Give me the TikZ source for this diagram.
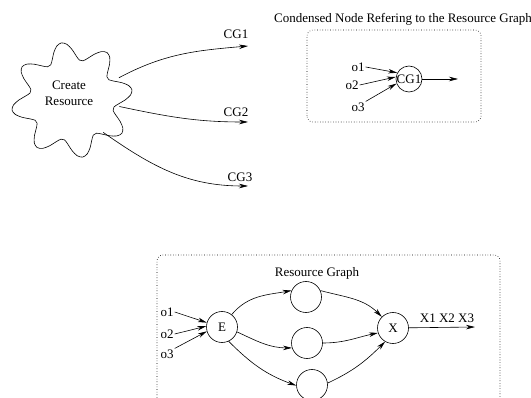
\documentclass[tikz,border=0pt]{standalone}
\usepackage{fontspec}
\setmainfont{Liberation Serif}
\usetikzlibrary{arrows.meta, positioning}

\begin{document}
\begin{tikzpicture}[
  x=1pt, y=1pt,
  every node/.style={font=\fontsize{13}{16}\selectfont},
  vertex/.style={circle, draw, line width=0.6pt, minimum size=31pt, inner sep=0pt},
  lbl/.style={inner sep=1pt},
  arr/.style={-{Stealth[length=9pt, width=4.5pt]}, line width=0.6pt},
  frame/.style={draw, dotted, line width=0.6pt, rounded corners=6pt}
]
\clip (0,0) rectangle (531,397);

% ===== CREATE RESOURCE =====
\draw[line width=0.6pt] plot[smooth cycle, domain=0:355, samples=72]
  ({72+1.05*(49+9*cos(8*(\x-10)))*cos(\x)}, {297+(49+9*cos(8*(\x-10)))*sin(\x)});
\node[circle, minimum size=104pt, align=center] (cr) at (69,304) {Create\\Resource};
\coordinate (cg1e) at (248,351);
\coordinate (cg2e) at (248,275);
\coordinate (cg3e) at (248,211);
\node[lbl] (cg1) at (236,363) {CG1};
\node[lbl] (cg2) at (236,285) {CG2};
\node[lbl] (cg3) at (240,220) {CG3};
\draw[arr] (cr.17) to[out=28, in=185] (cg1e);
\draw[arr] (cr.-15) to[out=-12, in=180] (cg2e);
\draw[arr] (cr.-49) to[out=-35, in=180] (cg3e);

% ===== CONDENSED NODE =====
\node[lbl] (title) at (403,378) {Condensed Node Refering to the Resource Graph};
\draw[frame] (307,275) rectangle (481,367);
\node[circle, draw, line width=0.6pt, minimum size=26pt, inner sep=0pt] (cgn) at (409,318) {CG1};
\node[lbl] (ci1) at (358,330) {o1};
\node[lbl] (ci2) at (352,312) {o2};
\node[lbl] (ci3) at (358,290) {o3};
\coordinate (cgout) at (458,318);
\draw[arr] (ci1.east) -- (cgn.152);
\draw[arr] (ci2.east) -- (cgn.171);
\draw[arr] (ci3.north east) -- (cgn.200);
\draw[arr] (cgn) -- (cgout);

% ===== RESOURCE GRAPH =====
\draw[frame] (157,-30) rectangle (500,142);
\node[lbl] (rg) at (317,124) {Resource Graph};
\node[vertex] (E) at (222,70) {E};
\node[vertex] (t) at (306,100) {};
\node[vertex] (m) at (307,54) {};
\node[vertex] (b) at (312,12) {};
\node[vertex] (X) at (393,69) {X};
\node[lbl] (ei1) at (167,85) {o1};
\node[lbl] (ei2) at (167,63) {o2};
\node[lbl] (ei3) at (167,43) {o3};
\coordinate (xout) at (475,70);
\node[lbl] (xl) at (447,79) {X1 X2 X3};
\draw[arr] (ei1.east) -- (E.164);
\draw[arr] (ei2.east) -- (E.177);
\draw[arr] (ei3.north east) -- (E.196);
\draw[arr] (E.52) to[out=50, in=190] (t.156);
\draw[arr] (E.-18) to[out=-25, in=180] (m.198);
\draw[arr] (E.-65) to[out=-45, in=160] (b.182);
\draw[arr] (t.24) to[out=-15, in=135] (X.135);
\draw[arr] (m.0) to[out=0, in=192] (X.198);
\draw[arr] (b.7) to[out=25, in=225] (X.240);
\draw[arr] (X) -- (xout);
\end{tikzpicture}
\end{document}
